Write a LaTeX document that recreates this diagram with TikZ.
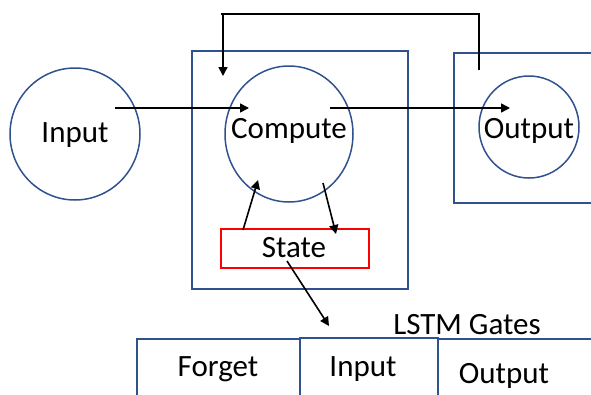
\documentclass[tikz,border=0pt]{standalone}
\usepackage{fontspec}
\setmainfont{Carlito}
\usetikzlibrary{arrows.meta,shapes.geometric}
\definecolor{frameblue}{HTML}{2F528F}
\definecolor{statered}{HTML}{FF0000}
\begin{document}
\begin{tikzpicture}[x=1pt,y=-1pt,
  every node/.style={font=\fontsize{31}{36}\selectfont, inner sep=0pt},
  frame/.style={draw=frameblue, line width=1.5pt},
  ring/.style={frame, ellipse},
  link/.style={draw=black, line width=1.6pt, -{Triangle[length=9pt,width=9pt]}},
  plain/.style={draw=black, line width=1.6pt}]
\useasboundingbox (0,0) rectangle (591,394);
\clip (0,0) rectangle (591,394);

% outer frames
\node[frame, minimum width=216pt, minimum height=238pt, anchor=north west] (cell) at (191,50) {};
\node[frame, minimum width=160pt, minimum height=150pt, anchor=north west] (outbox) at (453,52) {};

% circles
\node[ring, minimum width=130pt, minimum height=132pt] (inp) at (75,134) {};
\node (inptxt) at (75,135) {Input};
\node[ring, minimum width=128pt, minimum height=136pt] (comp) at (289,134) {};
\node (comptxt) at (289,131) {Compute};
\node[ring, minimum width=100pt, minimum height=102pt] (outc) at (529,127) {};
\node (outtxt) at (529,131) {Output};

% state box
\node[draw=statered, line width=1.5pt, minimum width=148pt, minimum height=39pt, anchor=north west] (statebox) at (220,228) {};
\node (state) at (294,248) {State};

% LSTM gates
\node (gates) at (467,325) {LSTM Gates};
\node[frame, minimum width=163pt, minimum height=80pt, anchor=north west] (forgetbox) at (136,338) {};
\node[frame, minimum width=160pt, minimum height=80pt, anchor=north west] (outgbox) at (437,338) {};
\node[frame, minimum width=138pt, minimum height=80pt, anchor=north west] (inputbox) at (299,337) {};
\node (forget) at (218,369) {Forget};
\node (inputg) at (363,369) {Input};
\node (outputg) at (504,376) {Output};

% connector anchor points
\coordinate (a1) at (115,108);
\coordinate (a2) at (249,108);
\coordinate (b1) at (330,108);
\coordinate (b2) at (510,108);
\coordinate (f1) at (479,70);
\coordinate (f2) at (479,14);
\coordinate (f3) at (221,14);
\coordinate (f4) at (223,14);
\coordinate (f5) at (223,76);
\coordinate (s1) at (243,230);
\coordinate (s2) at (258,180);
\coordinate (c1) at (323,183);
\coordinate (c2) at (336,234);
\coordinate (g1) at (287,261);
\coordinate (g2) at (329,326);

% connectors
\draw[link] (a1) -- (a2);
\draw[link] (b1) -- (b2);
\draw[plain] (f1) -- (f2) -- (f3);
\draw[link] (f4) -- (f5);
\draw[link] (s1) -- (s2);
\draw[link] (c1) -- (c2);
\draw[link] (g1) -- (g2);
\end{tikzpicture}
\end{document}
